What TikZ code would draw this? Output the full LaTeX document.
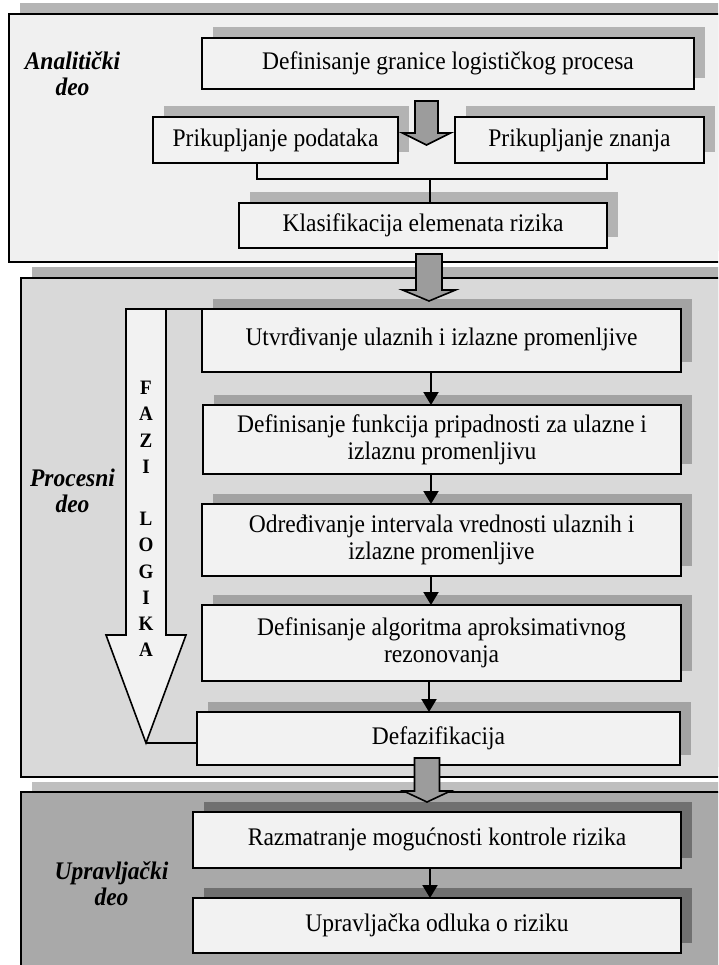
\documentclass[tikz,border=0pt]{standalone}
\usepackage{fontspec}
\setmainfont{Liberation Serif}[FakeStretch=0.93]
\usetikzlibrary{shadows,arrows.meta}
\definecolor{pAfill}{HTML}{F0F0F0}
\definecolor{pAsh}{HTML}{B5B5B5}
\definecolor{pBfill}{HTML}{D9D9D9}
\definecolor{pBsh}{HTML}{B2B2B2}
\definecolor{pCfill}{HTML}{A9A9A9}
\definecolor{pCsh}{HTML}{BFBFBF}
\definecolor{boxf}{HTML}{F2F2F2}
\definecolor{bshA}{HTML}{B3B3B3}
\definecolor{bshB}{HTML}{A3A3A3}
\definecolor{bshC}{HTML}{707070}
\definecolor{blkf}{HTML}{9C9C9C}
\newcommand\boxfont{\fontsize{25.3pt}{27pt}\selectfont}
\newcommand\labfont{\fontsize{25.3pt}{26pt}\selectfont\bfseries\itshape}
\newcommand\myblk[7]{% cx, top, headY, tipY, shaft half, head half
  \draw[blkarrow] ({#1-#5},#2) -- ({#1+#5},#2) -- ({#1+#5},#3) -- ({#1+#6},#3) -- (#1,#4) -- ({#1-#6},#3) -- ({#1-#5},#3) -- cycle;}
\begin{document}
\begin{tikzpicture}[x=1pt,y=-1pt,
  panel/.style={draw, line width=1.6pt, inner sep=0pt, outer sep=0pt, anchor=north west},
  shP/.style={general shadow={shadow xshift=11pt,shadow yshift=10.5pt,fill=#1}},
  box/.style={draw, fill=boxf, line width=1.6pt, inner sep=0pt, outer sep=0pt, align=center, font=\boxfont, anchor=north west},
  shB/.style={general shadow={shadow xshift=10.5pt,shadow yshift=10.5pt,fill=#1}},
  lab/.style={align=center, font=\labfont},
  arr/.style={line width=2pt, -{Triangle[width=15pt,length=13pt]}},
  conn/.style={line width=1.6pt},
  blkarrow/.style={draw, line width=1.6pt, fill=blkf, line join=miter},
]
\clip (0,0) rectangle (718,965);
\fill[white] (0,0) rectangle (718,965);

% panels
\node[panel, fill=pAfill, shP=pAsh, minimum width=760pt, minimum height=248pt] (P1) at (9,14) {};
\node[panel, fill=pBfill, shP=pBsh, minimum width=760pt, minimum height=499pt] (P2) at (21,278) {};
\node[panel, fill=pCfill, shP=pCsh, minimum width=760pt, minimum height=260pt] (P3) at (21,792) {};

% panel labels
\node[lab] (L1) at (72.5,74) {Analitički\\deo};
\node[lab] (L2) at (72.5,491) {Procesni\\deo};
\node[lab] (L3) at (111.5,884) {Upravljački\\deo};

% analytic part
\node[box, shB=bshA, minimum width=492pt, minimum height=51pt] (def) at (202,38) {Definisanje granice logističkog procesa};
\node[box, shB=bshA, minimum width=245pt, minimum height=46pt] (pod) at (153,117) {Prikupljanje podataka};
\node[box, shB=bshA, minimum width=249pt, minimum height=46pt] (zna) at (455,117) {Prikupljanje znanja};
\node[box, shB=bshA, minimum width=368pt, minimum height=45pt] (kla) at (239,203) {Klasifikacija elemenata rizika};

\coordinate (cj) at (430,179);
\coordinate (xl) at (257,0);
\coordinate (xr) at (607,0);
\draw[conn] (pod.south -| xl) |- (cj) -| (zna.south -| xr);
\draw[conn] (cj) -- (kla.north -| cj);

% process part
\node[box, shB=bshB, minimum width=479pt, minimum height=63pt] (utv) at (202,309) {\raisebox{7pt}{Utvrđivanje ulaznih i izlazne promenljive}};
\node[box, shB=bshB, minimum width=478pt, minimum height=69pt] (fun) at (203,405) {Definisanje funkcija pripadnosti za ulazne i\\izlaznu promenljivu};
\node[box, shB=bshB, minimum width=479pt, minimum height=72pt] (odr) at (202,504) {Određivanje intervala vrednosti ulaznih i\\izlazne promenljive};
\node[box, shB=bshB, minimum width=479pt, minimum height=76pt] (alg) at (202,605) {Definisanje algoritma aproksimativnog\\rezonovanja};
\node[box, shB=bshB, minimum width=483pt, minimum height=53pt] (dfz) at (197,712) {\raisebox{2pt}{Defazifikacija}};

\coordinate (ax) at (431,0);
\draw[arr] (utv.south -| ax) -- (fun.north -| ax);
\draw[arr] (fun.south -| ax) -- (odr.north -| ax);
\draw[arr] (odr.south -| ax) -- (alg.north -| ax);
\coordinate (ax2) at (429,0);
\draw[arr] (alg.south -| ax2) -- (dfz.north -| ax2);

% FAZI LOGIKA arrow
\coordinate (ftop) at (126,309);
\coordinate (ftip) at (146,743);
\draw[line width=1.6pt, fill=boxf, line join=miter] (ftop) -- (126,635) -- (106,635) -- (ftip) -- (186,635) -- (166,635) -- (166,309) -- cycle;
\draw[conn] (166,309) -- (utv.north west);
\draw[conn] (ftip) -- (ftip -| dfz.west);
\node[align=center, font=\fontsize{20.5pt}{26.2pt}\selectfont\bfseries] (fl) at (146,519) {F\\A\\Z\\I\\[26.2pt]L\\O\\G\\I\\K\\A};

% control part
\node[box, shB=bshC, minimum width=488pt, minimum height=56pt] (raz) at (193,812) {\raisebox{6pt}{Razmatranje mogućnosti kontrole rizika}};
\node[box, shB=bshC, minimum width=488pt, minimum height=55pt] (upr) at (193,898) {\raisebox{5pt}{Upravljačka odluka o riziku}};
\coordinate (ax3) at (430,0);
\draw[arr] (raz.south -| ax3) -- (upr.north -| ax3);

% block arrows
\myblk{426.5}{101}{133}{145}{11.5}{24}{}
\myblk{429}{254}{290}{301}{13}{26.5}{}
\myblk{427}{758}{791}{802}{12.5}{23.5}{}
\end{tikzpicture}
\end{document}
